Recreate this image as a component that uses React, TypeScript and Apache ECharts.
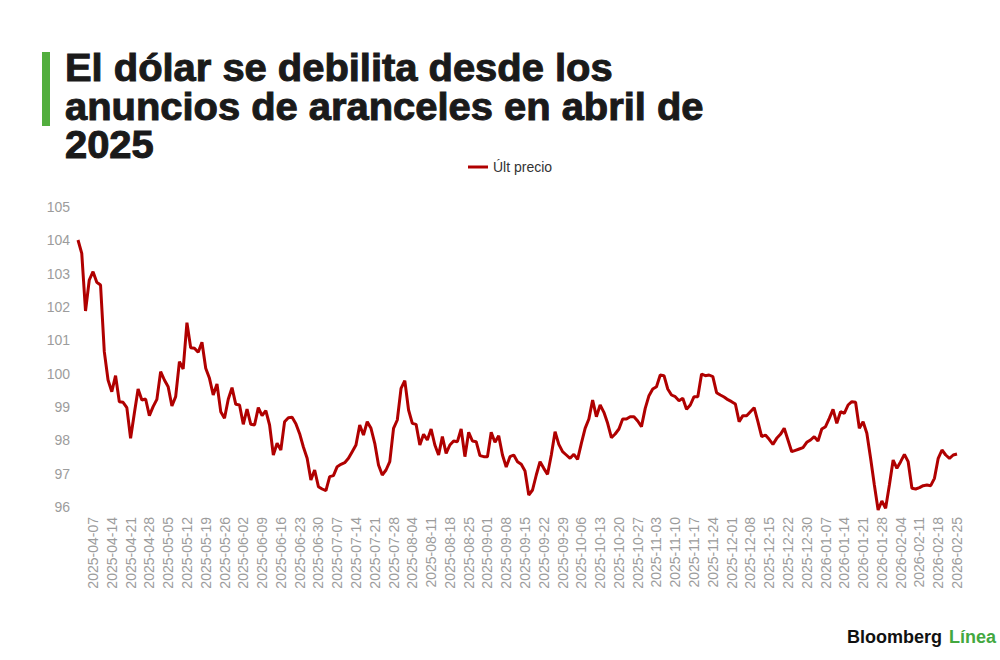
import React, { useEffect, useRef } from 'react';
import * as echarts from 'echarts';

const TITLE_LINES = ['El dólar se debilita desde los', 'anuncios de aranceles en abril de', '2025'];
const SERIES_NAME = 'Últ precio';
const START_DATE = '2025-04-01';
const END_DATE = '2026-02-25';
const HOLIDAYS = ['2025-12-25', '2026-01-01'];
const Y_MIN = 96;
const Y_MAX = 105;
const Y_STEP = 1;

const TICK_LABELS = [
  '2025-04-07', '2025-04-14', '2025-04-21', '2025-04-28', '2025-05-05', '2025-05-12', '2025-05-19', '2025-05-26',
  '2025-06-02', '2025-06-09', '2025-06-16', '2025-06-23', '2025-06-30', '2025-07-07', '2025-07-14', '2025-07-21',
  '2025-07-28', '2025-08-04', '2025-08-11', '2025-08-18', '2025-08-25', '2025-09-01', '2025-09-08', '2025-09-15',
  '2025-09-22', '2025-09-29', '2025-10-06', '2025-10-13', '2025-10-20', '2025-10-27', '2025-11-03', '2025-11-10',
  '2025-11-17', '2025-11-24', '2025-12-01', '2025-12-08', '2025-12-15', '2025-12-22', '2025-12-30', '2026-01-07',
  '2026-01-14', '2026-01-21', '2026-01-28', '2026-02-04', '2026-02-11', '2026-02-18', '2026-02-25',
];

const APR_2025 = [104.01, 103.61, 101.88, 102.81, 103.06, 102.74, 102.66, 100.66, 99.81, 99.46, 99.94, 99.16, 99.14, 98.98, 98.06, 98.81, 99.54, 99.21, 99.24, 98.74, 99.01, 99.23];
const MAY_2025 = [100.06, 99.81, 99.61, 99.03, 99.31, 100.36, 100.14, 101.53, 100.78, 100.76, 100.64, 100.94, 100.16, 99.86, 99.36, 99.69, 98.86, 98.66, 99.23, 99.58, 99.08, 99.06];
const JUN_2025 = [98.48, 98.94, 98.48, 98.46, 98.98, 98.74, 98.89, 98.46, 97.56, 97.91, 97.71, 98.56, 98.68, 98.69, 98.5, 98.2, 97.8, 97.46, 96.81, 97.11, 96.61];
const JUL_2025 = [96.54, 96.49, 96.91, 96.94, 97.21, 97.28, 97.33, 97.46, 97.66, 97.86, 98.46, 98.16, 98.56, 98.36, 97.91, 97.26, 96.96, 97.11, 97.36, 98.36, 98.61, 99.56, 99.79];
const AUG_2025 = [98.91, 98.51, 98.48, 97.86, 98.18, 98.01, 98.34, 97.86, 97.56, 98.11, 97.61, 97.86, 97.98, 97.96, 98.34, 97.51, 98.24, 97.98, 97.96, 97.54, 97.51];
const SEP_2025 = [97.51, 98.24, 97.94, 98.14, 97.56, 97.2, 97.51, 97.56, 97.36, 97.28, 97.08, 96.36, 96.51, 96.96, 97.36, 97.16, 96.98, 97.56, 98.26, 97.88, 97.66, 97.56];
const OCT_2025 = [97.46, 97.58, 97.43, 97.91, 98.36, 98.64, 99.21, 98.71, 99.06, 98.84, 98.51, 98.08, 98.19, 98.34, 98.64, 98.64, 98.71, 98.71, 98.58, 98.41, 98.96, 99.34, 99.54];
const NOV_2025 = [99.61, 99.96, 99.94, 99.54, 99.36, 99.31, 99.19, 99.26, 98.93, 99.06, 99.31, 99.31, 99.99, 99.94, 99.96, 99.91, 99.43, 99.36, 99.3, 99.22];
const DEC_2025 = [99.16, 99.09, 98.56, 98.74, 98.74, 98.86, 98.98, 98.56, 98.11, 98.16, 98.03, 97.88, 98.06, 98.18, 98.36, 98.01, 97.66, 97.7, 97.74, 97.78, 97.94, 98.01];
const JAN_2026 = [98.11, 97.98, 98.34, 98.41, 98.66, 98.93, 98.51, 98.86, 98.81, 99.06, 99.16, 99.14, 98.36, 98.56, 98.21, 97.46, 96.66, 95.91, 96.18, 95.96, 96.66];
const FEB_2026 = [97.41, 97.16, 97.36, 97.58, 97.36, 96.56, 96.54, 96.58, 96.64, 96.66, 96.64, 96.86, 97.46, 97.71, 97.56, 97.46, 97.56, 97.59];

const VALUES = [
  ...APR_2025, ...MAY_2025, ...JUN_2025, ...JUL_2025, ...AUG_2025, ...SEP_2025,
  ...OCT_2025, ...NOV_2025, ...DEC_2025, ...JAN_2026, ...FEB_2026,
];

function tradingDays(start: string, end: string, holidays: string[]): string[] {
  const out: string[] = [];
  const d = new Date(start + 'T00:00:00Z');
  const last = new Date(end + 'T00:00:00Z');
  while (d.getTime() <= last.getTime()) {
    const wd = d.getUTCDay();
    const iso = d.toISOString().slice(0, 10);
    if (wd !== 0 && wd !== 6 && holidays.indexOf(iso) < 0) out.push(iso);
    d.setUTCDate(d.getUTCDate() + 1);
  }
  return out;
}

const CATEGORIES = tradingDays(START_DATE, END_DATE, HOLIDAYS);

export default function App() {
  const ref = useRef<HTMLDivElement>(null);

  useEffect(() => {
    document.body.style.margin = '0';
    if (!ref.current) return;
    const chart = echarts.init(ref.current, undefined, { renderer: 'svg' });
    const n = Math.min(CATEGORIES.length, VALUES.length);
    const cats = CATEGORIES.slice(0, n);
    const vals = VALUES.slice(0, n);
    const font = '"Liberation Sans", Arial, Helvetica, sans-serif';

    chart.setOption({
      animation: false,
      backgroundColor: '#ffffff',
      grid: { left: 78, right: 43, top: 207, bottom: 153, containLabel: false },
      legend: {
        data: [SERIES_NAME],
        left: 463,
        top: 155,
        icon: 'rect',
        itemWidth: 20,
        itemHeight: 3,
        itemGap: 10,
        textStyle: { color: '#333333', fontSize: 14, fontFamily: font },
      },
      xAxis: {
        type: 'category',
        data: cats,
        boundaryGap: false,
        axisLine: { show: false },
        axisTick: { show: false },
        splitLine: { show: false },
        axisLabel: {
          rotate: 90,
          margin: 10,
          color: '#9c9c9c',
          fontSize: 14,
          fontFamily: font,
          interval: (_i: number, v: string) => TICK_LABELS.indexOf(v) >= 0,
        },
      },
      yAxis: {
        type: 'value',
        min: Y_MIN,
        max: Y_MAX,
        interval: Y_STEP,
        axisLine: { show: false },
        axisTick: { show: false },
        splitLine: { show: false },
        axisLabel: { color: '#9c9c9c', fontSize: 14, margin: 8, fontFamily: font },
      },
      series: [
        {
          name: SERIES_NAME,
          type: 'line',
          data: vals,
          showSymbol: false,
          symbol: 'none',
          clip: false,
          lineStyle: { color: '#b00000', width: 3 },
          itemStyle: { color: '#b00000' },
        },
      ],
      graphic: [
        { type: 'rect', shape: { x: 42, y: 52, width: 8, height: 74 }, style: { fill: '#52ae3e' } },
        ...TITLE_LINES.map((t, i) => ({
          type: 'text',
          x: 65,
          y: 68 + i * 38.5,
          scaleX: 1.05,
          style: {
            text: t,
            fontSize: 38,
            fontWeight: 'bold',
            fontFamily: font,
            fill: '#1a1a1a',
            stroke: '#1a1a1a',
            lineWidth: 1,
            align: 'left',
            verticalAlign: 'middle',
          },
        })),
        {
          type: 'text',
          x: 847,
          y: 637,
          style: {
            text: 'Bloomberg',
            fontSize: 18,
            fontWeight: 'bold',
            fontFamily: font,
            fill: '#111111',
            align: 'left',
            verticalAlign: 'middle',
          },
        },
        {
          type: 'text',
          x: 996,
          y: 637,
          style: {
            text: 'Línea',
            fontSize: 18,
            fontWeight: 'bold',
            fontFamily: font,
            fill: '#43a83f',
            align: 'right',
            verticalAlign: 'middle',
          },
        },
      ],
    });

    return () => chart.dispose();
  }, []);

  return <div ref={ref} style={{ width: 1000, height: 660 }} />;
}
